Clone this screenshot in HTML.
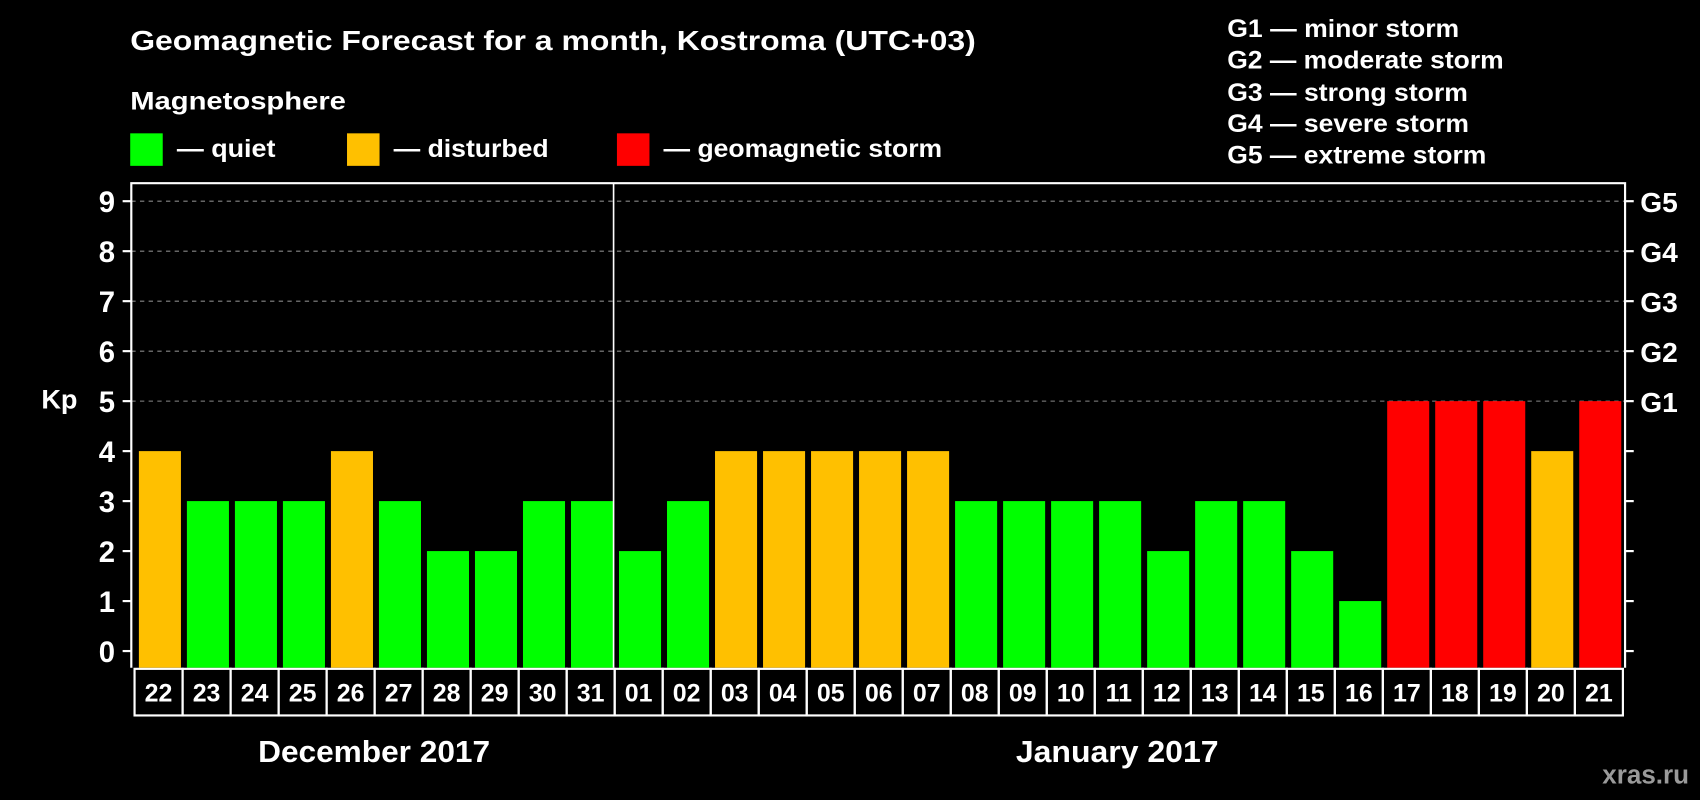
<!DOCTYPE html>
<html><head><meta charset="utf-8"><style>
html,body{margin:0;padding:0;background:#000;}
svg{display:block;font-family:"Liberation Sans",Arial,sans-serif;font-weight:bold;}
</style></head><body>
<svg id="chart" width="1700" height="800" viewBox="0 0 1568 738" xmlns="http://www.w3.org/2000/svg">
<rect width="1568" height="738" fill="#000"/>
<text x="120" y="46" fill="#fff" font-size="26" textLength="780" lengthAdjust="spacingAndGlyphs">Geomagnetic Forecast for a month, Kostroma (UTC+03)</text>
<text x="120" y="101" fill="#fff" font-size="23" textLength="199" lengthAdjust="spacingAndGlyphs">Magnetosphere</text>
<g><rect x="120" y="123" width="30" height="30" fill="#00ff00"/><text x="163" y="145" fill="#fff" font-size="23" textLength="91" lengthAdjust="spacingAndGlyphs">— quiet</text></g>
<g><rect x="320" y="123" width="30" height="30" fill="#ffc000"/><text x="363" y="145" fill="#fff" font-size="23" textLength="143" lengthAdjust="spacingAndGlyphs">— disturbed</text></g>
<g><rect x="569" y="123" width="30" height="30" fill="#ff0000"/><text x="612" y="145" fill="#fff" font-size="23" textLength="257" lengthAdjust="spacingAndGlyphs">— geomagnetic storm</text></g>
<g fill="#fff" font-size="23" lengthAdjust="spacingAndGlyphs">
<text x="1132" y="34" textLength="214" lengthAdjust="spacingAndGlyphs">G1 — minor storm</text>
<text x="1132" y="63" textLength="255" lengthAdjust="spacingAndGlyphs">G2 — moderate storm</text>
<text x="1132" y="93" textLength="222" lengthAdjust="spacingAndGlyphs">G3 — strong storm</text>
<text x="1132" y="122" textLength="223" lengthAdjust="spacingAndGlyphs">G4 — severe storm</text>
<text x="1132" y="151" textLength="239" lengthAdjust="spacingAndGlyphs">G5 — extreme storm</text>
</g>
<g id="grid"></g>
<g id="bars"></g>
<g id="axes"></g>
<text x="38" y="377" fill="#fff" font-size="25">Kp</text>
<text x="238" y="703" fill="#fff" font-size="28" textLength="214" lengthAdjust="spacingAndGlyphs">December 2017</text>
<text x="937" y="703" fill="#fff" font-size="28" textLength="187" lengthAdjust="spacingAndGlyphs">January 2017</text>
<text x="1558" y="723" fill="#9a9a9a" font-size="24" text-anchor="end">xras.ru</text>
</svg>
<script>
const days = ["22","23","24","25","26","27","28","29","30","31","01","02","03","04","05","06","07","08","09","10","11","12","13","14","15","16","17","18","19","20","21"];
const kpValues = [4,3,3,3,4,3,2,2,3,3,2,3,4,4,4,4,4,3,3,3,3,2,3,3,2,1,5,5,5,4,5];
const yTicks = [0,1,2,3,4,5,6,7,8,9];
const gLabels = ["G1","G2","G3","G4","G5"];
const monthBoundaryIndex = 10;

const NS = "http://www.w3.org/2000/svg";
const plotLeft = 121, plotRight = 1499, plotTop = 169, plotBottom = 616;
const x0 = 124, slot = (1497 - 124) / days.length;
const yScale = v => 600.6 - v * (600.6 - 185.6) / 9;
const xs = i => x0 + i * slot;
function mk(tag, attrs, parent) {
  const e = document.createElementNS(NS, tag);
  for (const k in attrs) e.setAttribute(k, attrs[k]);
  parent.appendChild(e);
  return e;
}
const grid = document.getElementById("grid");
const bars = document.getElementById("bars");
const axes = document.getElementById("axes");
function color(v) { return v >= 5 ? "#ff0000" : v === 4 ? "#ffc000" : "#00ff00"; }

yTicks.forEach(t => {
  if (t >= 5) {
    const g = mk("line", {x1: plotLeft, x2: plotRight, y1: yScale(t), y2: yScale(t), stroke: "#888", "stroke-width": 1, "stroke-dasharray": "4,4"}, grid);
    
    
  }
  const tl = mk("line", {x1: plotLeft - 8, x2: plotLeft, y1: yScale(t), y2: yScale(t), stroke: "#fff", "stroke-width": 2}, axes);
  
  
  const tr = mk("line", {x1: plotRight, x2: plotRight + 8, y1: yScale(t), y2: yScale(t), stroke: "#fff", "stroke-width": 2}, axes);
  
  
  const lb = mk("text", {x: 106, y: yScale(t) + 10, fill: "#fff", "font-size": 27, "text-anchor": "end"}, axes);
  lb.textContent = t;
  
  
});
gLabels.forEach((g, i) => {
  const t = mk("text", {x: 1513, y: yScale(5 + i) + 10, fill: "#fff", "font-size": 26}, axes);
  t.textContent = g;
  
  
});

kpValues.forEach((v, i) => {
  const r = mk("rect", {x: xs(i) + 4, y: yScale(v), width: slot - 5.5, height: plotBottom - yScale(v), fill: color(v)}, bars);
  
  
  const b = mk("rect", {x: xs(i), y: plotBottom + 1, width: slot, height: 43, fill: "none", stroke: "#fff", "stroke-width": 2}, axes);
  
  
  const t = mk("text", {x: xs(i) + slot / 2, y: plotBottom + 31, fill: "#fff", "font-size": 23, "text-anchor": "middle"}, axes);
  t.textContent = days[i];
  
  
});

const frame = mk("path", {d: `M${plotLeft},${plotBottom} V${plotTop} H${plotRight} V${plotBottom}`, fill: "none", stroke: "#fff", "stroke-width": 2}, axes);


const sep = mk("line", {x1: xs(monthBoundaryIndex) - 1, x2: xs(monthBoundaryIndex) - 1, y1: plotTop, y2: plotBottom, stroke: "#fff", "stroke-width": 1.5}, axes);


</script>
</body></html>
